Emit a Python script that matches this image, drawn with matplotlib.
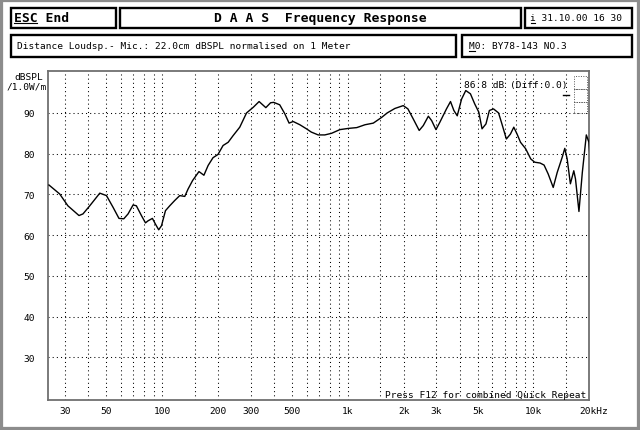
import matplotlib.pyplot as plt
from matplotlib.patches import Rectangle
from matplotlib.transforms import blended_transform_factory

# Frequency response
freq_hz = [24.6, 28.1, 31.1, 35.7, 37.5, 40.8, 46.2, 50.2, 54.5, 58.6, 62.2, 65.6, 69.8, 72.7,
           77.4, 81.4, 84.0, 88.7, 92.1, 95.9, 99.3, 104.3, 110, 117, 124.5, 132.5, 138, 146,
           158, 168, 177, 188, 200, 213, 227, 241, 262, 285, 310, 333, 362, 384, 399, 430,
           458, 483, 508, 552, 599, 636, 693, 752, 818, 906, 1006, 1118, 1238, 1372, 1521,
           1630, 1793, 1989, 2107, 2253, 2424, 2550, 2716, 2830, 2984, 3130, 3400, 3574,
           3726, 3885, 4100, 4318, 4575, 4827, 5075, 5283, 5546, 5786, 6088, 6485, 6760,
           7143, 7510, 7833, 8159, 8511, 9075, 9667, 10150, 10850, 11400, 12000, 12770,
           13420, 14270, 14740, 15180, 15800, 16480, 16830, 17570, 18320, 19250, 19880, 20100]
spl_db = [72.3, 70.1, 67.2, 64.8, 65.2, 67.2, 70.3, 69.7, 66.8, 64.1, 64.0, 65.2, 67.4, 67.2,
          64.8, 63.0, 63.5, 64.1, 62.7, 61.3, 62.3, 66.0, 67.2, 68.5, 69.7, 69.5, 71.3, 73.4,
          75.6, 74.7, 77.1, 79.0, 79.8, 82.0, 82.8, 84.4, 86.5, 90.0, 91.4, 92.8, 91.3, 92.5,
          92.6, 92.0, 89.8, 87.5, 87.9, 87.1, 86.1, 85.3, 84.6, 84.6, 85.0, 85.9, 86.2, 86.4,
          87.1, 87.5, 88.9, 90.0, 91.1, 91.8, 91.0, 88.5, 85.7, 86.9, 89.2, 88.1, 85.9, 87.7,
          91.0, 92.8, 90.6, 89.3, 93.4, 95.5, 94.7, 92.2, 90.2, 86.1, 87.3, 90.6, 91.0, 90.0,
          87.3, 83.6, 84.8, 86.5, 84.8, 82.8, 81.2, 78.7, 77.9, 77.7, 77.2, 75.0, 71.7, 75.4,
          79.1, 81.3, 78.7, 72.6, 75.8, 73.8, 65.8, 75.4, 84.6, 82.8, 80.0]

grid_freqs = [30, 40, 50, 60, 70, 80, 90, 100, 150, 200, 300, 400, 500, 600, 700, 800, 900,
              1000, 1500, 2000, 3000, 4000, 5000, 6000, 7000, 8000, 9000, 10000, 15000]
label_freqs = [30, 50, 100, 200, 300, 500, 1000, 2000, 3000, 5000, 10000]
label_texts = ['30', '50', '100', '200', '300', '500', '1k', '2k', '3k', '5k', '10k']
db_ticks = [30, 40, 50, 60, 70, 80, 90]

W, H = 640, 431
MONO = 'DejaVu Sans Mono'
FS = 6.8


def fx(px):
    return px / W


def fy(py):
    return 1 - py / H


fig = plt.figure(figsize=(6.4, 4.31), dpi=100)
fig.patch.set_facecolor('white')

# outer dithered frame
fig.patches.append(Rectangle((0, 0), 1, 1, transform=fig.transFigure, fill=False,
                             edgecolor='#8c8c8c', lw=4.5))


def box(x0, y0, x1, y1):
    fig.patches.append(Rectangle((fx(x0 + 1.2), fy(y1 - 1.2)), fx(x1 - x0 - 2.4),
                                 (y1 - y0 - 2.4) / H, transform=fig.transFigure,
                                 fill=False, edgecolor='black', lw=1.7))


box(9.3, 7.3, 116.7, 30)
box(118.3, 7.3, 521.7, 30)
box(523.3, 7.3, 632.7, 30)
box(9.3, 35, 457.3, 59.3)
box(460.7, 35, 632.7, 59.3)

fig.text(fx(14), fy(18.6), 'ESC End', family=MONO, fontsize=9.4, weight='bold', va='center')
fig.add_artist(plt.Line2D([fx(14), fx(37)], [fy(23.5), fy(23.5)], color='black', lw=0.8))
fig.text(fx(320), fy(18.6), 'D A A S  Frequency Response', family=MONO, fontsize=9.4,
         weight='bold', va='center', ha='center')
fig.text(fx(530.5), fy(18.6), 'i 31.10.00 16 30', family=MONO, fontsize=FS, va='center')
fig.add_artist(plt.Line2D([fx(530.5), fx(535)], [fy(23.5), fy(23.5)], color='black', lw=0.8))
fig.text(fx(17), fy(46.8), 'Distance Loudsp.- Mic.: 22.0cm dBSPL normalised on 1 Meter',
         family=MONO, fontsize=FS, va='center')
fig.text(fx(469), fy(46.8), 'M0: BY78-143 NO.3', family=MONO, fontsize=FS, va='center')
fig.add_artist(plt.Line2D([fx(469), fx(475)], [fy(51.5), fy(51.5)], color='black', lw=0.8))

fig.text(fx(43), fy(77.7), 'dBSPL', family=MONO, fontsize=FS, va='center', ha='right')
fig.text(fx(47), fy(87.3), '/1.0W/m', family=MONO, fontsize=FS, va='center', ha='right')

# plot area
ax = fig.add_axes([fx(48.3), fy(401), fx(589 - 48.3), (401 - 72) / H])
ax.set_xscale('log')
ax.set_xlim(24.4, 19900)
ax.set_ylim(19.5, 100.3)

for f in grid_freqs:
    ax.axvline(f, color='black', lw=0.75, ls=(0, (1, 3)), zorder=1)
for d in db_ticks:
    ax.axhline(d, color='black', lw=0.75, ls=(0, (1, 3)), zorder=1)

ax.plot(freq_hz, spl_db, color='black', lw=1.0, zorder=3, clip_on=True)

ax.minorticks_off()
ax.set_xticks(label_freqs)
ax.set_xticklabels(label_texts, family=MONO, fontsize=FS)
ax.set_yticks(db_ticks)
ax.set_yticklabels([str(d) for d in db_ticks], family=MONO, fontsize=FS)
ax.tick_params(axis='x', length=0, pad=4)
ax.tick_params(axis='y', length=0, pad=9.5)
for s in ax.spines.values():
    s.set_color('#707070')
    s.set_linewidth(1.3)

tr = blended_transform_factory(ax.transData, ax.transAxes)
ax.annotate('20kHz', xy=(20000, 0), xycoords=tr, xytext=(-7, -4), textcoords='offset points',
            ha='left', va='top', family=MONO, fontsize=FS, annotation_clip=False)

ax.text(fx(586), fy(395.5), 'Press F12 for combined Quick Repeat', transform=fig.transFigure,
        family=MONO, fontsize=FS, ha='right', va='center', zorder=4)
ax.text(fx(567.5), fy(85.7), '86.8 dB (Diff:0.0)', transform=fig.transFigure,
        family=MONO, fontsize=FS, ha='right', va='center', zorder=4)
fig.add_artist(plt.Line2D([fx(563), fx(569)], [fy(95.5), fy(95.5)], color='black', lw=1.0))

# small scale indicator in the top right corner
for y0, y1 in [(77, 90), (90, 103), (103, 114)]:
    fig.patches.append(Rectangle((fx(574), fy(y1)), fx(13), (y1 - y0) / H,
                                 transform=fig.transFigure, fill=False,
                                 edgecolor='#555555', lw=0.7, ls=(0, (1, 1.5))))

plt.savefig('out.png', dpi=100)
